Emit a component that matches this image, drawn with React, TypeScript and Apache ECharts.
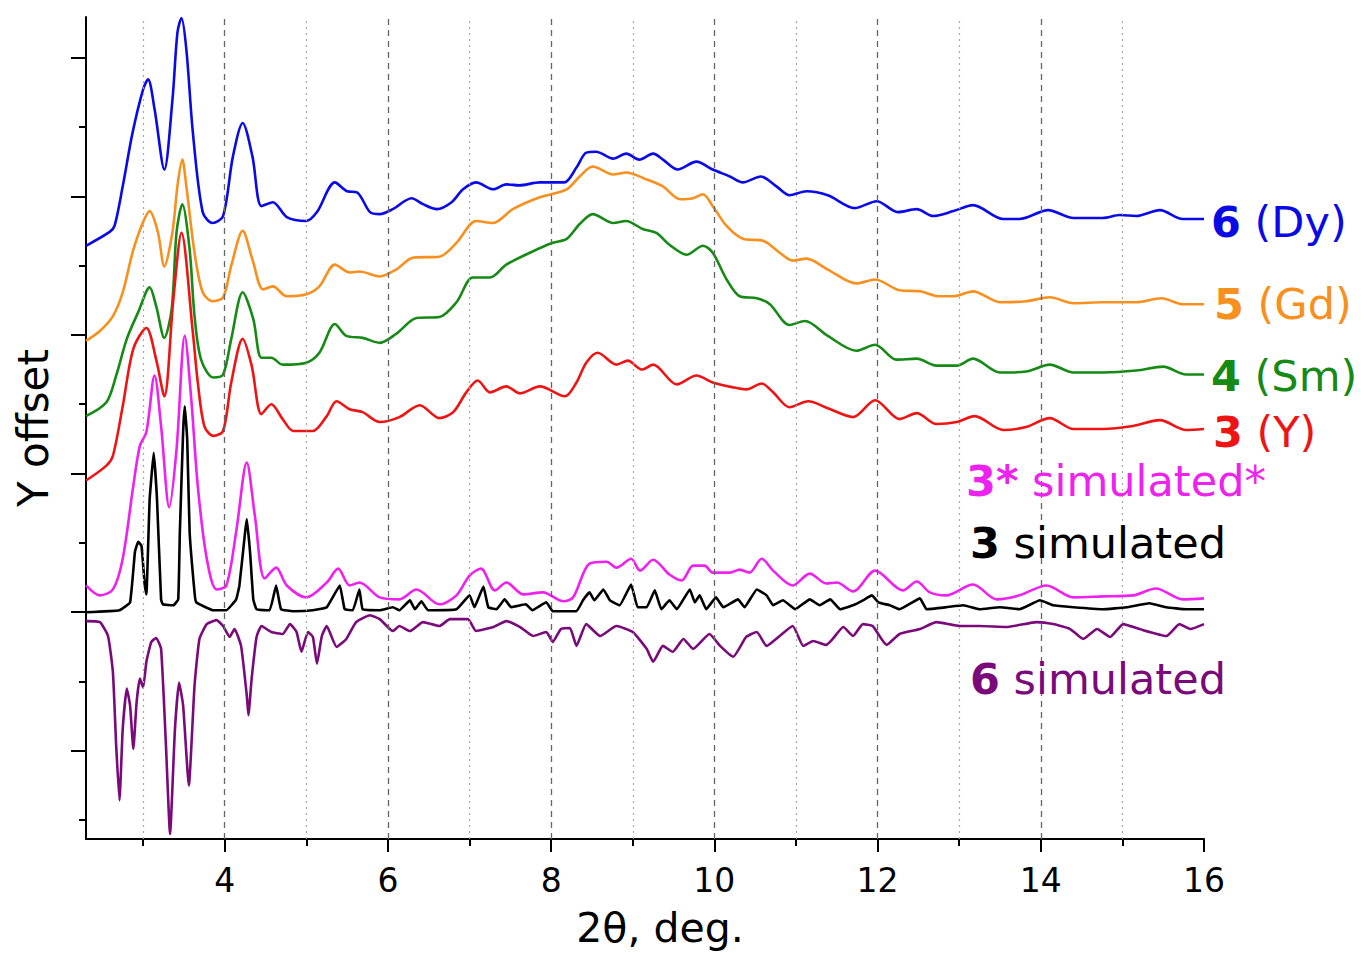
import React, { useEffect, useRef } from "react";
import * as echarts from "echarts";

// ---------- axis ranges & ticks ----------
const X_MIN = 2.3;
const X_MAX = 16;
const Y_MIN = -229;
const Y_MAX = 601;
const xMajorTicks = [4, 6, 8, 10, 12, 14, 16];
const xMinorTicks = [3, 5, 7, 9, 11, 13, 15];
const yMajorTicks = [-140, 0, 140, 280, 420, 560];
const yMinorTicks = [-210, -70, 70, 210, 350, 490];
const gridMajor = [4, 6, 8, 10, 12, 14];
const gridMinor = [3, 5, 7, 9, 11, 13, 15];

// ---------- data: [2θ, offset intensity] ----------
const dyCurve = [
  [2.3, 370], [2.59, 384], [2.65, 390], [2.75, 430], [2.87, 484], [3.0, 528], [3.06, 538], [3.14, 508],
  [3.26, 447], [3.36, 518], [3.42, 585], [3.47, 600], [3.53, 568], [3.61, 484], [3.73, 404], [3.85, 393],
  [3.98, 400], [4.1, 460], [4.22, 494], [4.34, 460], [4.45, 410], [4.59, 414], [4.76, 399], [5.0, 395],
  [5.13, 404], [5.35, 434], [5.5, 425], [5.62, 424], [5.78, 404], [5.9, 402], [6.06, 407], [6.29, 418],
  [6.43, 412], [6.6, 407], [6.78, 414], [6.92, 427], [7.08, 434], [7.29, 427], [7.45, 432], [7.61, 431],
  [7.86, 434], [8.16, 434], [8.31, 449], [8.43, 464], [8.55, 465], [8.76, 458], [8.92, 463], [9.08, 457],
  [9.25, 463], [9.37, 457], [9.55, 447], [9.78, 455], [9.98, 447], [10.19, 440], [10.35, 434], [10.57, 440],
  [10.76, 430], [10.92, 421], [11.13, 425], [11.39, 421], [11.72, 408], [11.99, 415], [12.25, 404],
  [12.48, 407], [12.68, 400], [12.93, 405], [13.17, 411], [13.54, 397], [13.74, 397], [14.09, 406],
  [14.4, 398], [14.76, 398], [14.97, 401], [15.17, 400], [15.46, 406], [15.74, 397], [16.0, 397],
];
const gdCurve = [
  [2.3, 274], [2.47, 284], [2.63, 299], [2.75, 323], [2.87, 363], [2.98, 390], [3.08, 405], [3.18, 384],
  [3.26, 349], [3.36, 384], [3.42, 430], [3.48, 457], [3.53, 430], [3.63, 363], [3.73, 323], [3.85, 314],
  [3.98, 318], [4.08, 350], [4.22, 385], [4.34, 356], [4.47, 326], [4.59, 329], [4.76, 319], [5.0, 321],
  [5.16, 329], [5.35, 351], [5.53, 343], [5.65, 344], [5.9, 339], [6.1, 346], [6.31, 358], [6.63, 359],
  [6.84, 373], [7.08, 395], [7.29, 393], [7.53, 407], [7.86, 419], [8.19, 427], [8.35, 440], [8.51, 450],
  [8.76, 442], [8.92, 444], [9.17, 437], [9.37, 430], [9.58, 417], [9.74, 418], [9.86, 422], [9.98, 410],
  [10.15, 390], [10.35, 377], [10.6, 375], [10.8, 363], [10.96, 355], [11.13, 357], [11.39, 346],
  [11.74, 332], [11.97, 336], [12.27, 325], [12.52, 324], [12.76, 319], [12.93, 319], [13.17, 324],
  [13.5, 313], [13.82, 314], [14.11, 318], [14.4, 312], [14.76, 313], [15.17, 313], [15.48, 317],
  [15.74, 311], [16.0, 311],
];
const smCurve = [
  [2.3, 198], [2.55, 212], [2.67, 239], [2.8, 276], [2.94, 303], [3.08, 328], [3.16, 309], [3.26, 277],
  [3.35, 306], [3.41, 384], [3.48, 412], [3.57, 366], [3.63, 299], [3.71, 255], [3.86, 237], [3.98, 240],
  [4.08, 276], [4.22, 323], [4.35, 296], [4.45, 257], [4.57, 257], [4.71, 250], [5.0, 252], [5.16, 262],
  [5.35, 291], [5.49, 279], [5.69, 277], [5.9, 272], [6.1, 281], [6.35, 297], [6.63, 298], [6.84, 313],
  [7.04, 338], [7.25, 338], [7.45, 351], [7.74, 363], [8.02, 373], [8.19, 377], [8.35, 392], [8.51, 402],
  [8.76, 393], [8.92, 395], [9.12, 387], [9.29, 383], [9.45, 371], [9.66, 361], [9.86, 370], [9.98, 363],
  [10.15, 336], [10.31, 319], [10.52, 317], [10.68, 311], [10.92, 290], [11.11, 294], [11.39, 279],
  [11.74, 264], [11.97, 270], [12.23, 255], [12.48, 256], [12.72, 249], [12.97, 249], [13.17, 256],
  [13.5, 242], [13.82, 243], [14.11, 250], [14.4, 242], [14.76, 242], [15.17, 244], [15.5, 248],
  [15.78, 240], [16.0, 240],
];
const yCurve = [
  [2.3, 133], [2.55, 148], [2.63, 158], [2.75, 208], [2.88, 266], [3.04, 287], [3.16, 255], [3.26, 218],
  [3.37, 316], [3.47, 383], [3.61, 282], [3.67, 232], [3.75, 188], [3.86, 178], [3.98, 183], [4.08, 232],
  [4.22, 276], [4.33, 249], [4.45, 200], [4.57, 210], [4.71, 195], [4.84, 183], [5.08, 183], [5.25, 198],
  [5.37, 213], [5.53, 205], [5.69, 202], [5.9, 192], [6.14, 197], [6.39, 209], [6.63, 196], [6.8, 202],
  [6.96, 222], [7.1, 234], [7.25, 222], [7.45, 228], [7.62, 221], [7.86, 228], [8.17, 218], [8.31, 232],
  [8.43, 252], [8.57, 262], [8.8, 250], [8.94, 254], [9.11, 245], [9.25, 250], [9.54, 230], [9.78, 239],
  [9.98, 232], [10.23, 227], [10.39, 225], [10.58, 231], [10.72, 222], [10.92, 207], [11.15, 213],
  [11.39, 206], [11.7, 197], [11.97, 214], [12.27, 195], [12.48, 201], [12.72, 190], [12.97, 192],
  [13.19, 198], [13.54, 184], [13.82, 187], [14.11, 196], [14.4, 185], [14.76, 185], [15.13, 188],
  [15.46, 194], [15.78, 184], [16.0, 185],
];
const sim3StarCurve = [
  [2.3, 27], [2.47, 17], [2.63, 23], [2.75, 54], [2.88, 128], [2.96, 168], [3.04, 182], [3.14, 239],
  [3.22, 188], [3.32, 106], [3.41, 165], [3.51, 279], [3.59, 215], [3.67, 127], [3.78, 54], [3.9, 23],
  [4.02, 27], [4.14, 81], [4.27, 151], [4.37, 97], [4.49, 34], [4.63, 45], [4.76, 27], [5.0, 15],
  [5.25, 30], [5.39, 44], [5.53, 27], [5.65, 30], [5.9, 15], [6.14, 13], [6.35, 23], [6.63, 8], [6.84, 17],
  [7.0, 37], [7.14, 44], [7.31, 22], [7.45, 30], [7.66, 18], [7.9, 20], [8.15, 11], [8.27, 15], [8.47, 49],
  [8.68, 51], [8.8, 45], [8.98, 54], [9.09, 42], [9.25, 53], [9.45, 38], [9.6, 32], [9.74, 47], [9.88, 47],
  [9.98, 40], [10.19, 40], [10.31, 43], [10.43, 40], [10.58, 54], [10.72, 42], [10.96, 27], [11.17, 39],
  [11.37, 29], [11.5, 30], [11.7, 21], [11.97, 42], [12.31, 22], [12.48, 31], [12.64, 20], [12.84, 17],
  [13.17, 28], [13.46, 13], [13.74, 17], [14.07, 27], [14.4, 15], [14.76, 16], [15.13, 17], [15.41, 24],
  [15.74, 13], [16.0, 14],
];
const sim3Curve = [
  [2.3, 0], [2.71, 2], [2.84, 10], [2.9, 61], [2.94, 71], [2.98, 67], [3.02, 27], [3.04, 18], [3.08, 114],
  [3.13, 161], [3.17, 114], [3.22, 13], [3.24, 8], [3.37, 7], [3.43, 13], [3.45, 81], [3.49, 182],
  [3.51, 208], [3.54, 175], [3.57, 81], [3.63, 20], [3.65, 10], [3.86, 2], [4.02, 2], [4.14, 13],
  [4.18, 27], [4.25, 81], [4.27, 94], [4.31, 61], [4.35, 13], [4.39, 3], [4.55, 2], [4.63, 27], [4.69, 3],
  [4.84, 1], [5.08, 2], [5.25, 5], [5.41, 27], [5.47, 3], [5.57, 2], [5.65, 23], [5.69, 3], [5.9, 2],
  [6.06, 5], [6.14, 2], [6.27, 12], [6.33, 3], [6.41, 11], [6.49, 2], [6.84, 3], [7.0, 17], [7.06, 5],
  [7.17, 26], [7.23, 5], [7.33, 3], [7.43, 13], [7.51, 5], [7.69, 8], [7.77, 2], [7.94, 10], [8.02, 1],
  [8.31, 1], [8.39, 12], [8.47, 20], [8.53, 12], [8.64, 23], [8.72, 12], [8.84, 7], [8.98, 28], [9.06, 5],
  [9.17, 5], [9.27, 22], [9.35, 3], [9.45, 12], [9.54, 3], [9.7, 23], [9.76, 10], [9.82, 17], [9.9, 3],
  [10.02, 15], [10.11, 5], [10.29, 13], [10.37, 5], [10.52, 23], [10.64, 17], [10.72, 7], [10.84, 12],
  [10.99, 3], [11.17, 13], [11.29, 7], [11.42, 13], [11.54, 3], [11.7, 7], [11.82, 12], [11.93, 17],
  [12.01, 10], [12.15, 7], [12.27, 3], [12.52, 14], [12.6, 3], [12.84, 5], [13.05, 7], [13.25, 3],
  [13.5, 5], [13.74, 3], [13.99, 12], [14.15, 7], [14.4, 5], [14.76, 3], [15.05, 5], [15.33, 9],
  [15.54, 5], [15.78, 3], [16.0, 3],
];
const sim6Curve = [
  [2.3, -9], [2.47, -10], [2.57, -24], [2.63, -61], [2.67, -135], [2.71, -190], [2.75, -118], [2.8, -77],
  [2.84, -94], [2.88, -138], [2.92, -91], [2.96, -67], [3.0, -76], [3.04, -50], [3.1, -30], [3.16, -26],
  [3.22, -37], [3.28, -135], [3.33, -224], [3.39, -118], [3.44, -71], [3.49, -94], [3.56, -175],
  [3.63, -74], [3.69, -27], [3.78, -12], [3.9, -8], [3.98, -14], [4.06, -25], [4.12, -17], [4.2, -34],
  [4.27, -84], [4.29, -104], [4.33, -67], [4.39, -25], [4.45, -14], [4.57, -20], [4.71, -22], [4.8, -12],
  [4.88, -20], [4.94, -40], [5.02, -20], [5.08, -25], [5.13, -52], [5.19, -24], [5.25, -14], [5.37, -35],
  [5.49, -27], [5.61, -10], [5.78, -3], [5.9, -7], [6.06, -19], [6.14, -14], [6.27, -19], [6.43, -10],
  [6.63, -14], [6.76, -7], [6.98, -7], [7.08, -19], [7.29, -15], [7.45, -9], [7.62, -15], [7.78, -24],
  [7.94, -20], [8.02, -30], [8.12, -17], [8.23, -16], [8.31, -34], [8.43, -12], [8.6, -24], [8.8, -14],
  [9.0, -20], [9.17, -37], [9.25, -50], [9.37, -34], [9.49, -40], [9.62, -27], [9.74, -37], [9.94, -22],
  [10.07, -34], [10.23, -45], [10.39, -25], [10.52, -20], [10.64, -34], [10.8, -24], [10.96, -14],
  [11.09, -34], [11.21, -29], [11.37, -33], [11.45, -27], [11.58, -15], [11.7, -24], [11.82, -12],
  [11.94, -14], [12.11, -33], [12.27, -22], [12.52, -17], [12.72, -10], [13.01, -14], [13.25, -14],
  [13.58, -15], [13.95, -10], [14.15, -12], [14.36, -17], [14.52, -27], [14.69, -17], [14.85, -25],
  [15.01, -12], [15.21, -17], [15.54, -24], [15.7, -12], [15.83, -17], [16.0, -12],
];

// series names (label text: bold part + regular part)
const seriesBold = ["6", "5", "4", "3", "3*", "3", "6"];
const seriesRest = [" (Dy)", " (Gd)", " (Sm)", " (Y)", " simulated*", " simulated", " simulated"];
const seriesData = [dyCurve, gdCurve, smCurve, yCurve, sim3StarCurve, sim3Curve, sim6Curve];

// ---------- styling / layout ----------
const FONT = "DejaVu Sans";
const colors = ["#0a0ae6", "#f7901e", "#158a15", "#ee1414", "#ee22ee", "#000000", "#7a0a7a"];
const smoothing = [0.3, 0.3, 0.3, 0.3, 0.3, 0.1, 0.15];
const labelPos = [
  [1211, 222],
  [1214, 304],
  [1211, 376],
  [1213, 432],
  [966, 481],
  [970, 543],
  [970, 679],
];
const LABEL_SIZE = 43;

export default function App() {
  const ref = useRef<HTMLDivElement>(null);

  useEffect(() => {
    if (!ref.current) return;
    const chart = echarts.init(ref.current, null, { renderer: "svg" });

    const curveSeries = seriesData.map((d, i) => ({
      type: "line",
      name: seriesBold[i] + seriesRest[i],
      data: d,
      xAxisIndex: 0,
      yAxisIndex: 0,
      showSymbol: false,
      symbol: "none",
      smooth: smoothing[i],
      z: 3,
      lineStyle: { color: colors[i], width: 2.6, join: "round" },
      itemStyle: { color: colors[i] },
    }));

    const option: any = {
      animation: false,
      backgroundColor: "#ffffff",
      grid: { left: 86, right: 163, top: 17, bottom: 113, containLabel: false },
      xAxis: [
        {
          type: "value",
          min: X_MIN,
          max: X_MAX,
          position: "bottom",
          name: "2θ, deg.",
          nameLocation: "middle",
          nameGap: 68,
          nameTextStyle: { fontSize: 41, color: "#000", fontFamily: FONT, padding: [0, 0, 0, 30] },
          axisLine: { show: true, onZero: false, lineStyle: { color: "#000", width: 2 } },
          axisTick: { show: true, inside: false, length: 13, customValues: xMajorTicks, lineStyle: { color: "#000", width: 2 } },
          axisLabel: { show: true, customValues: xMajorTicks, margin: 25, fontSize: 33, color: "#000", fontFamily: FONT },
          splitLine: { show: false },
        },
        {
          type: "value",
          min: X_MIN,
          max: X_MAX,
          position: "bottom",
          axisLine: { show: false, onZero: false },
          axisTick: { show: true, inside: false, length: 7, customValues: xMinorTicks, lineStyle: { color: "#000", width: 2 } },
          axisLabel: { show: false },
          splitLine: { show: false },
        },
      ],
      yAxis: [
        {
          type: "value",
          min: Y_MIN,
          max: Y_MAX,
          position: "left",
          name: "Y offset",
          nameLocation: "middle",
          nameRotate: 90,
          nameGap: 32,
          nameTextStyle: { fontSize: 42, color: "#000", fontFamily: FONT },
          axisLine: { show: true, onZero: false, lineStyle: { color: "#000", width: 2 } },
          axisTick: { show: true, inside: false, length: 15, customValues: yMajorTicks, lineStyle: { color: "#000", width: 2 } },
          axisLabel: { show: false },
          splitLine: { show: false },
        },
        {
          type: "value",
          min: Y_MIN,
          max: Y_MAX,
          position: "left",
          axisLine: { show: false, onZero: false },
          axisTick: { show: true, inside: false, length: 7, customValues: yMinorTicks, lineStyle: { color: "#000", width: 2 } },
          axisLabel: { show: false },
          splitLine: { show: false },
        },
      ],
      series: [
        {
          type: "line",
          name: "grid-major",
          data: [],
          silent: true,
          z: 1,
          markLine: {
            silent: true,
            animation: false,
            symbol: ["none", "none"],
            label: { show: false },
            emphasis: { disabled: true },
            lineStyle: { color: "#666666", type: [6, 5], width: 1.3 },
            data: gridMajor.map((v) => ({ xAxis: v })),
          },
        },
        {
          type: "line",
          name: "grid-minor",
          data: [],
          silent: true,
          z: 1,
          markLine: {
            silent: true,
            animation: false,
            symbol: ["none", "none"],
            label: { show: false },
            emphasis: { disabled: true },
            lineStyle: { color: "#a8a8a8", type: [2, 4], width: 1.2 },
            data: gridMinor.map((v) => ({ xAxis: v })),
          },
        },
        ...curveSeries,
      ],
      graphic: seriesBold.map((b, i) => ({
        type: "text",
        x: labelPos[i][0],
        y: labelPos[i][1],
        z: 10,
        silent: true,
        style: {
          text: `{b|${b}}{n|${seriesRest[i]}}`,
          align: "left",
          verticalAlign: "middle",
          rich: {
            b: { fontSize: LABEL_SIZE, fontWeight: "bold", fill: colors[i], fontFamily: FONT },
            n: { fontSize: LABEL_SIZE, fontWeight: "normal", fill: colors[i], fontFamily: FONT },
          },
        },
      })),
    };

    chart.setOption(option);
    return () => chart.dispose();
  }, []);

  return (
    <div
      ref={ref}
      style={{ position: "absolute", left: 0, top: 0, width: 1367, height: 953, background: "#fff" }}
    />
  );
}
